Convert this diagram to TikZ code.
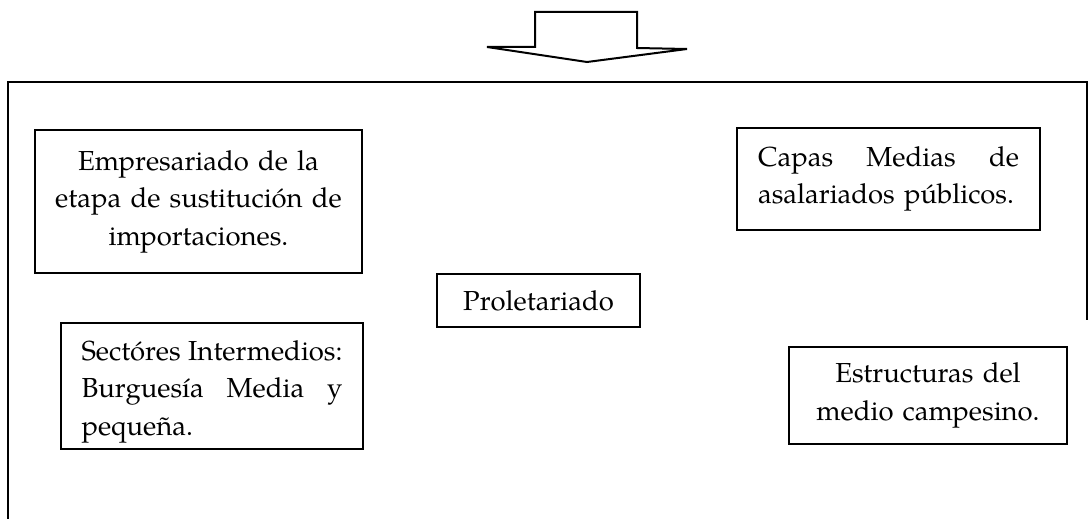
\documentclass[tikz,border=0pt]{standalone}
\usepackage{fontspec}
\setmainfont{texgyrepagella-regular.otf}
\begin{document}
\begin{tikzpicture}[x=1pt,y=-1pt,
  box/.style={draw, line width=1.9pt, inner sep=0pt, font=\fontsize{27.5}{37.5}\selectfont},
  edge/.style={line width=2pt}]
\useasboundingbox (0,0) rectangle (1088,519);
% arrow
\draw[edge, line join=miter] (535,12) -- (637,12) -- (637,48) -- (687,49) -- (587,62) -- (487,47) -- (535,47) -- cycle;
% frame
\draw[edge] (8,519) -- (8,82) -- (1088,82);
\draw[edge] (1087,82) -- (1087,320);
% boxes
\node[box, minimum width=327pt, minimum height=143pt, text width=300pt, align=center] (emp) at (198.5,201.5)
  {Empresariado de la\\ etapa de sustitución de\\ importaciones.};
\node[box, minimum width=303pt, minimum height=102pt, text width=261pt, align=left] (cap) at (888.5,179)
  {\leavevmode\hbox to 261pt{Capas\hfill Medias\hfill de}\\ asalariados públicos.};
\node[box, minimum width=203pt, minimum height=53pt, align=center] (pro) at (538.5,300.5)
  {Proletariado};
\node[box, minimum width=302pt, minimum height=126pt, text width=261pt, align=left] (sec) at (212,386)
  {\leavevmode\hbox to 261pt{\rule{0pt}{31pt}Sectóres\hfill Intermedios:}\\ \leavevmode\hbox to 261pt{Burguesía\hfill Media\hfill y}\\ pequeña.};
\node[box, minimum width=278pt, minimum height=97pt, text width=250pt, align=center] (est) at (928,395.5)
  {Estructuras del\\ medio campesino.};
\end{tikzpicture}
\end{document}
